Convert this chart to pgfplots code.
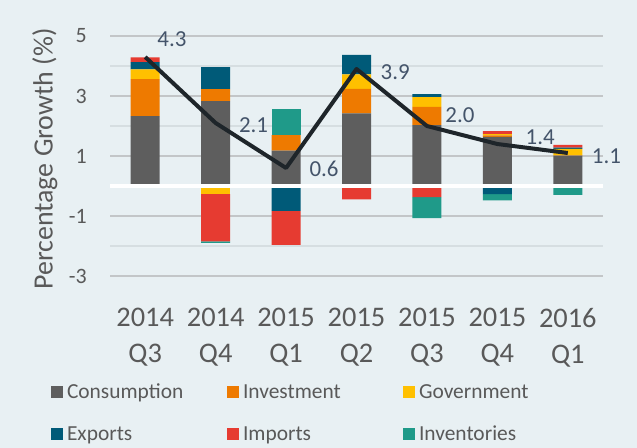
\documentclass[border=0pt]{standalone}
\usepackage{pgfplots}
\pgfplotsset{compat=1.18}
\usepackage{fontspec}
\setmainfont{Carlito}
\definecolor{bg}{HTML}{E8F0F3}
\definecolor{gridmaj}{HTML}{C3C6C8}
\definecolor{gridmin}{HTML}{D6DEE1}
\definecolor{txt}{HTML}{595959}
\definecolor{lab}{HTML}{44546A}
\definecolor{cons}{HTML}{5E5E5E}
\definecolor{inv}{HTML}{EE7A00}
\definecolor{gov}{HTML}{FFC000}
\definecolor{expo}{HTML}{005A78}
\definecolor{impo}{HTML}{E63B31}
\definecolor{invt}{HTML}{1F9A89}
\definecolor{linec}{HTML}{1E252A}

% positive contributions
\pgfplotstableread{
x cons inv gov expo impo invt
0 2.33 1.23 0.33 0.24 0.16 0
1 2.83 0.40 0    0.73 0    0
2 1.18 0.52 0    0    0    0.88
3 2.42 0.82 0.48 0.65 0    0
4 2.03 0.61 0.32 0.10 0    0
5 1.64 0.05 0.04 0    0.10 0
6 1.01 0.01 0.22 0.04 0.09 0
}\pos
% negative contributions
\pgfplotstableread{
x cons inv gov expo impo invt
0 0 0 0     0     0     0
1 0 0 -0.27 0     -1.58 -0.05
2 0 0 0     -0.83 -1.13 0
3 0 0 0     0     -0.45 0
4 0 0 0     0     -0.37 -0.70
5 0 0 0     -0.27 0     -0.21
6 0 0 0     0     0     -0.30
}\negv
% total growth
\pgfplotstableread{
x total
0 4.3
1 2.1
2 0.6
3 3.9
4 2.0
5 1.4
6 1.1
}\tot

\pgfplotsset{
  common/.style={
    at={(110bp,142bp)}, anchor=south west,
    scale only axis, width=493bp, height=285bp,
    xmin=-0.5, xmax=6.5, ymin=-4, ymax=5.5,
  },
}

\begin{document}
\begin{tikzpicture}
\fill[bg] (0,0) rectangle (637bp,448bp);

\begin{axis}[common,
  ybar stacked, bar width=29bp, stacked ignores zero,
  axis line style={draw=none},
  major tick length=0pt, minor tick length=0pt,
  ytick={-3,-1,1,3,5}, minor ytick={-2,2,4},
  ymajorgrids, yminorgrids,
  major grid style={draw=gridmaj, line width=1.5bp},
  minor grid style={draw=gridmin, line width=1.2bp},
  xtick={0,...,6},
  xticklabels={{2014\\Q3},{2014\\Q4},{2015\\Q1},{2015\\Q2},{2015\\Q3},{2015\\Q4},{2016\\Q1}},
  /pgf/number format/assume math mode=true,
  xticklabel style={align=center, font=\fontsize{28.5}{36}\selectfont, text=txt, inner sep=0pt, anchor=north, yshift=-2bp},
  yticklabel style={font=\fontsize{22}{26}\selectfont, text=txt, inner sep=0pt, anchor=east, xshift=-23bp},
  ylabel={Percentage Growth (\%)},
  ylabel style={font=\fontsize{28}{32}\selectfont, text=txt, at={(axis description cs:-0.132,0.516)}, anchor=center, rotate=0},
  legend columns=3,
  legend image code/.code={\fill[#1] (0bp,-6bp) rectangle (12bp,6bp);},
  legend style={at={(axis description cs:-0.12,-0.265)}, anchor=north west, draw=none, fill=none,
    font=\fontsize{21.5}{25}\selectfont, text=txt, inner sep=0pt,
    row sep=22bp, column sep=0pt,
    nodes={inner xsep=2bp, inner ysep=2bp}},
]
\addplot[fill=cons, draw=none] table[x=x, y=cons] {\pos};
\addlegendentry{\makebox[160bp][l]{\hspace{2bp}Consumption}}
\addplot[fill=inv, draw=none] table[x=x, y=inv] {\pos};
\addlegendentry{\makebox[160bp][l]{\hspace{2bp}Investment}}
\addplot[fill=gov, draw=none] table[x=x, y=gov] {\pos};
\addlegendentry{\makebox[160bp][l]{\hspace{2bp}Government}}
\addplot[fill=expo, draw=none] table[x=x, y=expo] {\pos};
\addlegendentry{\makebox[160bp][l]{\hspace{2bp}Exports}}
\addplot[fill=impo, draw=none] table[x=x, y=impo] {\pos};
\addlegendentry{\makebox[160bp][l]{\hspace{2bp}Imports}}
\addplot[fill=invt, draw=none] table[x=x, y=invt] {\pos};
\addlegendentry{\makebox[160bp][l]{\hspace{2bp}Inventories}}
\end{axis}

\begin{axis}[common, hide axis,
  ybar stacked, bar width=29bp, stacked ignores zero]
\addplot[fill=cons, draw=none] table[x=x, y=cons] {\negv};
\addplot[fill=inv, draw=none] table[x=x, y=inv] {\negv};
\addplot[fill=gov, draw=none] table[x=x, y=gov] {\negv};
\addplot[fill=expo, draw=none] table[x=x, y=expo] {\negv};
\addplot[fill=impo, draw=none] table[x=x, y=impo] {\negv};
\addplot[fill=invt, draw=none] table[x=x, y=invt] {\negv};
\end{axis}

\begin{axis}[common, hide axis, clip=false]
\draw[white, line width=4bp] (axis cs:-0.5,0) -- (axis cs:6.5,0);
\addplot[color=linec, line width=4bp, line join=round, no markers] table[x=x, y=total] {\tot};
\begin{scope}[every node/.style={font=\fontsize{23}{27}\selectfont, text=lab, inner sep=0pt}]
\node[anchor=center] at (axis cs:0.38,4.9) {4.3};
\node[anchor=west] at (axis cs:1.33,2.03) {2.1};
\node[anchor=west] at (axis cs:2.33,0.57) {0.6};
\node[anchor=west] at (axis cs:3.34,3.8) {3.9};
\node[anchor=west] at (axis cs:4.26,2.37) {2.0};
\node[anchor=west] at (axis cs:5.40,1.63) {1.4};
\node[anchor=west] at (axis cs:6.34,1.0) {1.1};
\end{scope}
\end{axis}

\pgfresetboundingbox
\useasboundingbox (0,0) rectangle (637bp,448bp);
\end{tikzpicture}
\end{document}
